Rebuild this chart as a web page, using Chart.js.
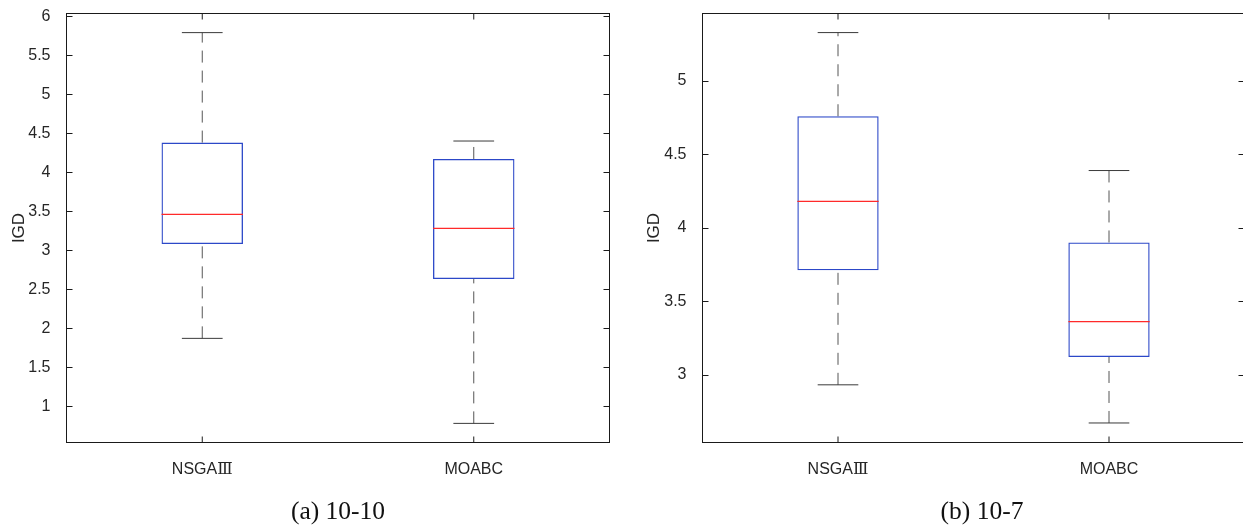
<!DOCTYPE html>
<html><head><meta charset="utf-8">
<script src="https://cdn.jsdelivr.net/npm/chart.js@4"></script>
<style>
html,body{margin:0;padding:0;background:#fff;overflow:hidden;width:1243px;height:527px;position:relative}
canvas{position:absolute;top:0}
#c1{left:0}
#c2{left:640px}
.cap{position:absolute;font-family:"Liberation Serif","Times New Roman",serif;font-size:25.5px;line-height:1;color:#111;transform:translate(-50%,-50%);white-space:nowrap}
</style></head><body>
<canvas id="c1" width="620" height="527"></canvas>
<canvas id="c2" width="610" height="527"></canvas>
<div class="cap" style="left:338px;top:511px">(a) 10-10</div>
<div class="cap" style="left:982px;top:511px">(b) 10-7</div>
<script>
// ---- data ----
const categories = ['NSGAⅢ', 'MOABC'];
// (a) 10-10
const minA = [1.87, 0.78];
const q1A  = [3.08, 2.63];
const medA = [3.46, 3.28];
const q3A  = [4.38, 4.17];
const maxA = [5.79, 4.40];
// (b) 10-7
const minB = [2.93, 2.67];
const q1B  = [3.71, 3.12];
const medB = [4.18, 3.36];
const q3B  = [4.76, 3.90];
const maxB = [5.33, 4.39];
// axes
const yTicksA = [1, 1.5, 2, 2.5, 3, 3.5, 4, 4.5, 5, 5.5, 6];
const yTicksB = [3, 3.5, 4, 4.5, 5];
const yRangeA = [0.535, 6.035];
const yRangeB = [2.537, 5.46];
const yTitle = 'IGD';

const FONT = '"Liberation Sans", Arial, Helvetica, "DejaVu Serif", sans-serif';
const TXT = '#262626';
const BOX = '#2c48c8';
const MED = '#ff2a2a';
const H = 527, BOTTOM = 442.5, TOP = 13.5;

function makeBox(st) {
  return {
    id: 'boxparts',
    afterDatasetsDraw(chart) {
      const {ctx, chartArea: a, scales: {x, y}} = chart;
      const meta = chart.getDatasetMeta(0);
      const line = (x1, y1, x2, y2) => { ctx.beginPath(); ctx.moveTo(x1, y1); ctx.lineTo(x2, y2); ctx.stroke(); };
      ctx.save();
      st.min.forEach((_, i) => {
        const cx = x.getPixelForValue(i);
        const half = meta.data[i].width / 2;
        // whiskers, drawn from the lower value upward
        ctx.lineWidth = 1;
        ctx.strokeStyle = '#555';
        ctx.setLineDash([12, 8]);
        line(cx, y.getPixelForValue(st.min[i]), cx, y.getPixelForValue(st.q1[i]));
        line(cx, y.getPixelForValue(st.q3[i]), cx, y.getPixelForValue(st.max[i]));
        ctx.setLineDash([]);
        // caps
        ctx.strokeStyle = '#3a3a3a';
        const yMin = y.getPixelForValue(st.min[i]), yMax = y.getPixelForValue(st.max[i]);
        line(cx - half / 2, yMin, cx + half / 2, yMin);
        line(cx - half / 2, yMax, cx + half / 2, yMax);
        // median
        ctx.lineWidth = 1.3;
        ctx.strokeStyle = MED;
        const ym = y.getPixelForValue(st.med[i]);
        line(cx - half, ym, cx + half, ym);
      });
      // frame
      ctx.lineWidth = 1;
      ctx.strokeStyle = '#1a1a1a';
      ctx.strokeRect(a.left, a.top, a.right - a.left, a.bottom - a.top);
      // inward ticks
      const TL = 6;
      y.ticks.forEach(t => {
        const py = Math.round(y.getPixelForValue(t.value)) + 0.5;
        line(a.left, py, a.left + TL, py);
        line(a.right, py, a.right - TL, py);
      });
      categories.forEach((_, i) => {
        const px = x.getPixelForValue(i);
        line(px, a.bottom, px, a.bottom - TL);
        line(px, a.top, px, a.top + TL);
      });
      ctx.restore();
    }
  };
}

function makeChart(id, st, yTicks, yRange, yWidth, padRight, titlePad) {
  return new Chart(document.getElementById(id), {
    type: 'bar',
    data: {
      labels: categories,
      datasets: [{
        data: st.q1.map((v, i) => [v, st.q3[i]]),
        backgroundColor: 'rgba(0,0,0,0)',
        borderColor: BOX,
        borderWidth: 1.3,
        borderSkipped: false,
        barPercentage: 0.3,
        categoryPercentage: 1
      }]
    },
    options: {
      responsive: false,
      animation: false,
      events: [],
      layout: {padding: {left: 0, top: TOP, right: padRight, bottom: 0}},
      plugins: {legend: {display: false}, tooltip: {enabled: false}},
      scales: {
        x: {
          grid: {display: false},
          border: {display: false},
          ticks: {color: TXT, font: {family: FONT, size: 16}, padding: 9, maxRotation: 0},
          afterFit(s) { s.height = H - BOTTOM; s.paddingLeft = 0; s.paddingRight = 0; }
        },
        y: {
          min: yRange[0], max: yRange[1],
          grid: {display: false},
          border: {display: false},
          afterBuildTicks(s) { s.ticks = yTicks.map(v => ({value: v})); },
          ticks: {color: TXT, font: {family: FONT, size: 16}, padding: 8, callback: v => String(v)},
          title: {display: true, text: yTitle, color: TXT, font: {family: FONT, size: 17}, padding: {top: titlePad, bottom: 0}},
          afterFit(s) { s.width = yWidth; s.paddingTop = 0; s.paddingBottom = 0; }
        }
      }
    },
    plugins: [makeBox(st)]
  });
}

makeChart('c1', {min: minA, q1: q1A, med: medA, q3: q3A, max: maxA}, yTicksA, yRangeA, 66.5, 10.5, 9.6);
makeChart('c2', {min: minB, q1: q1B, med: medB, q3: q3B, max: maxB}, yTicksB, yRangeB, 62.5, 5.5, 3.8);
</script>
</body></html>
